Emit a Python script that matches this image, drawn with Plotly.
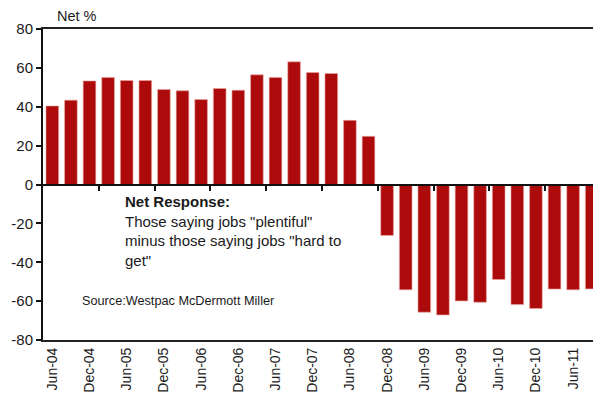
import plotly.graph_objects as go

categories = ["Jun-04","Sep-04","Dec-04","Mar-05","Jun-05","Sep-05","Dec-05","Mar-06",
              "Jun-06","Sep-06","Dec-06","Mar-07","Jun-07","Sep-07","Dec-07","Mar-08",
              "Jun-08","Sep-08","Dec-08","Mar-09","Jun-09","Sep-09","Dec-09","Mar-10",
              "Jun-10","Sep-10","Dec-10","Mar-11","Jun-11","Sep-11"]
net_values = [40.4, 43.4, 53.3, 55.1, 53.5, 53.5, 48.9, 48.2,
              43.7, 49.4, 48.5, 56.4, 55.1, 63.1, 57.6, 57.1,
              33.0, 24.8, -26.2, -54.2, -65.7, -67.1, -59.9, -60.6,
              -48.9, -61.8, -63.8, -53.8, -54.2, -53.7]
y_ticks = [80, 60, 40, 20, 0, -20, -40, -60, -80]
y_tick_text = ["80", "60", "40", "20", "0", "-20", "-40", "-60", "-80"]
label_categories = categories[::2]
minor_tick_positions = [2.5, 5.5, 8.5, 11.5, 14.5, 17.5, 20.5, 23.5, 26.5]

FONT = "Liberation Sans, Arial, sans-serif"
n = len(categories)

fig = go.Figure()
fig.add_trace(go.Bar(
    x=list(range(n)), y=net_values,
    marker=dict(color="#ad0b0b", line=dict(color="#e9a5a5", width=0.6)),
    hoverinfo="skip", showlegend=False,
))
fig.add_trace(go.Scatter(x=[0], y=[0], xaxis="x2", yaxis="y", mode="markers",
                         marker=dict(opacity=0), showlegend=False, hoverinfo="skip"))

# page body has an 8px default margin: figure is offset by (8, 8)
fig.update_layout(
    width=593, height=390,
    margin=dict(l=35, r=0, t=21, b=58, autoexpand=False),
    paper_bgcolor="white", plot_bgcolor="white",
    bargap=0.32,
    font=dict(family=FONT, size=14, color="#1a1a1a"),
    xaxis=dict(
        range=[-0.5, n - 0.5], automargin=False,
        tickmode="array",
        tickvals=[categories.index(c) for c in label_categories],
        ticktext=label_categories,
        tickangle=-90,
        ticks="", showgrid=False, zeroline=False,
        showline=True, linecolor="#222222", linewidth=2, mirror=True,
        tickfont=dict(family=FONT, size=14, color="#1a1a1a"),
    ),
    xaxis2=dict(
        overlaying="x", anchor="free", position=0.5, automargin=False,
        range=[-0.5, n - 0.5], type="linear",
        tickmode="array", tickvals=minor_tick_positions,
        showticklabels=False, ticks="outside", ticklen=5, tickwidth=2,
        tickcolor="#111111",
        showline=True, linecolor="#111111", linewidth=2,
        showgrid=False, zeroline=False,
    ),
    yaxis=dict(
        range=[-80, 80], automargin=False,
        tickmode="array", tickvals=y_ticks, ticktext=y_tick_text,
        ticks="outside", ticklen=5, tickwidth=2, tickcolor="#111111",
        showline=True, linecolor="#111111", linewidth=2,
        showgrid=False, zeroline=False,
        tickfont=dict(family=FONT, size=15, color="#1a1a1a"),
    ),
    annotations=[
        dict(text="Net %", xref="paper", yref="paper", x=12/558, y=1,
             xanchor="left", yanchor="bottom", yshift=3, showarrow=False,
             font=dict(family=FONT, size=14.5, color="#1a1a1a")),
        dict(text="<b>Net Response:</b><br>Those saying jobs \"plentiful\"<br>minus those saying jobs \"hard to<br>get\"",
             xref="x", yref="y", x=3.8, y=-3.5, xanchor="left", yanchor="top",
             align="left", showarrow=False,
             font=dict(family=FONT, size=15, color="#1a1a1a")),
        dict(text="Source:Westpac McDermott Miller", xref="x", yref="y", x=1.5, y=-60,
             xanchor="left", yanchor="middle", showarrow=False,
             font=dict(family=FONT, size=12.7, color="#1a1a1a")),
    ],
)

fig.write_html("out.html")
